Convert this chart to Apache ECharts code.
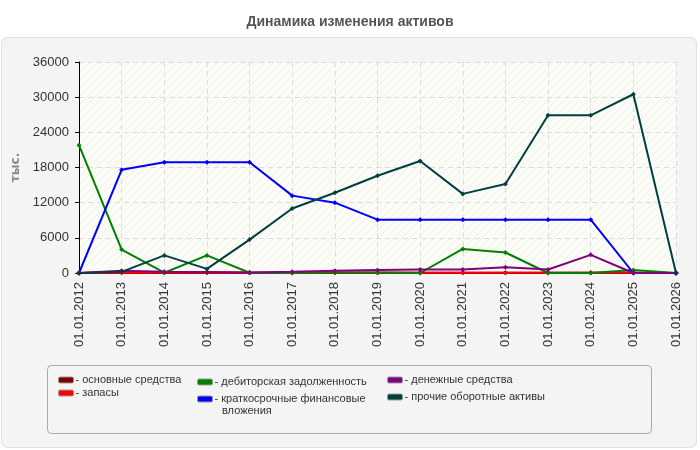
<!DOCTYPE html>
<html>
<head>
<meta charset="utf-8">
<script src="https://cdn.jsdelivr.net/npm/echarts@6/dist/echarts.min.js"></script>
<style>
  html, body { margin: 0; padding: 0; background: #fff; }
  #chart { width: 700px; height: 450px; }
</style>
</head>
<body>
<div id="chart"></div>
<script>
// Dates on the x axis
const dates = ['01.01.2012', '01.01.2013', '01.01.2014', '01.01.2015', '01.01.2016',
  '01.01.2017', '01.01.2018', '01.01.2019', '01.01.2020', '01.01.2021',
  '01.01.2022', '01.01.2023', '01.01.2024', '01.01.2025', '01.01.2026']

// Values, тыс.
const fixedAssets = [0, 100, 100, 100, 50, 50, 50, 50, 50, 50, 50, 50, 50, 50, 0]
const inventory = [0, 50, 50, 50, 50, 50, 50, 50, 50, 50, 50, 50, 50, 50, 0]
const receivables = [21800, 4000, 50, 3000, 50, 0, 100, 100, 0, 4100, 3500, 0, 0, 500, 0]
const shortInvest = [0, 17600, 18900, 18900, 18900, 13200, 12000, 9100, 9100, 9100, 9100, 9100, 9100, 0, 0]
const cash = [0, 400, 200, 150, 100, 200, 400, 500, 600, 600, 1000, 600, 3100, 0, 0]
const otherAssets = [0, 200, 3000, 700, 5700, 11000, 13700, 16600, 19100, 13500, 15200, 26900, 26900, 30500, 0]

const yTicks = { min: 0, max: 36000, interval: 6000 }

const FONT = 'Liberation Sans'

// Light diagonal hatching for the plot background
const hatch = document.createElement('canvas')
hatch.width = 8
hatch.height = 8
const hctx = hatch.getContext('2d')
hctx.fillStyle = '#fcfcf7'
hctx.fillRect(0, 0, 8, 8)
hctx.strokeStyle = '#f0f0ea'
hctx.lineWidth = 1
hctx.beginPath()
hctx.moveTo(0, 8)
hctx.lineTo(8, 0)
hctx.stroke()

const chart = echarts.init(document.getElementById('chart'))

const mkSeries = (name, data, color) => ({
  name,
  type: 'line',
  data,
  symbol: 'diamond',
  symbolSize: 5,
  showSymbol: true,
  itemStyle: { color },
  lineStyle: { color, width: 2 },
  animation: false
})

// one legend per entry, so each sits where the original puts it
const legendItem = (name, left, centerY, label) => ({
  orient: 'vertical',
  left,
  top: centerY - 7,
  padding: 0,
  icon: 'roundRect',
  itemWidth: 15,
  itemHeight: 6,
  itemGap: 0,
  data: [name],
  textStyle: { fontFamily: FONT, fontSize: 11, color: '#333', lineHeight: 14, padding: [0, 0, 0, -3] },
  formatter: () => '- ' + (label || name),
  itemStyle: { borderColor: '#999', borderWidth: 1 }
})

chart.setOption({
  backgroundColor: '#fff',
  textStyle: { fontFamily: FONT },
  title: {
    text: 'Динамика изменения активов',
    left: 'center',
    top: 10,
    textStyle: { fontSize: 14, fontWeight: 'bold', color: '#555', fontFamily: FONT }
  },
  graphic: [
    {
      type: 'rect',
      z: -10,
      shape: { x: 1.5, y: 37.5, width: 695, height: 410, r: 6 },
      style: { fill: '#f4f4f4', stroke: '#e0e0e0', lineWidth: 1 }
    },
    {
      type: 'rect',
      z: -5,
      shape: { x: 47.5, y: 365.5, width: 604, height: 68, r: 4 },
      style: { fill: '#f4f4f4', stroke: '#aaa', lineWidth: 1 }
    },
    {
      type: 'text',
      left: 222,
      top: 405,
      style: { text: 'вложения', fill: '#333', font: '11px "Liberation Sans"' }
    }
  ],
  legend: [
    legendItem('основные средства', 58, 380),
    legendItem('запасы', 58, 393),
    legendItem('дебиторская задолженность', 197, 382),
    legendItem('краткосрочные финансовые вложения', 197, 399, 'краткосрочные финансовые'),
    legendItem('денежные средства', 387, 380),
    legendItem('прочие оборотные активы', 387, 397)
  ],
  grid: {
    left: 79, right: 24, top: 62, bottom: 177,
    show: true,
    backgroundColor: { image: hatch, repeat: 'repeat' },
    borderWidth: 0
  },
  xAxis: {
    type: 'category',
    data: dates,
    boundaryGap: false,
    axisLine: { lineStyle: { color: '#000', width: 1 } },
    axisTick: { show: false },
    axisLabel: { rotate: 90, fontSize: 13, color: '#333', margin: 9, fontFamily: FONT },
    splitLine: { show: true, lineStyle: { color: '#dcdcdc', type: [5, 4] } }
  },
  yAxis: {
    type: 'value',
    min: yTicks.min,
    max: yTicks.max,
    interval: yTicks.interval,
    name: 'тыс.',
    nameLocation: 'middle',
    nameGap: 48,
    nameTextStyle: { fontSize: 12, fontWeight: 'bold', color: '#888', fontFamily: 'DejaVu Sans' },
    axisLine: { show: true, lineStyle: { color: '#000', width: 1 } },
    axisTick: { show: true, length: 4, lineStyle: { color: '#000' } },
    axisLabel: { fontSize: 13, color: '#333', margin: 10, fontFamily: FONT, formatter: (v) => String(v) },
    splitLine: { show: true, lineStyle: { color: '#dcdcdc', type: [5, 4] } }
  },
  series: [
    mkSeries('основные средства', fixedAssets, '#800000'),
    mkSeries('запасы', inventory, '#ff0000'),
    mkSeries('дебиторская задолженность', receivables, '#008000'),
    mkSeries('краткосрочные финансовые вложения', shortInvest, '#0000ff'),
    mkSeries('денежные средства', cash, '#800080'),
    mkSeries('прочие оборотные активы', otherAssets, '#004040')
  ]
})
</script>
</body>
</html>
